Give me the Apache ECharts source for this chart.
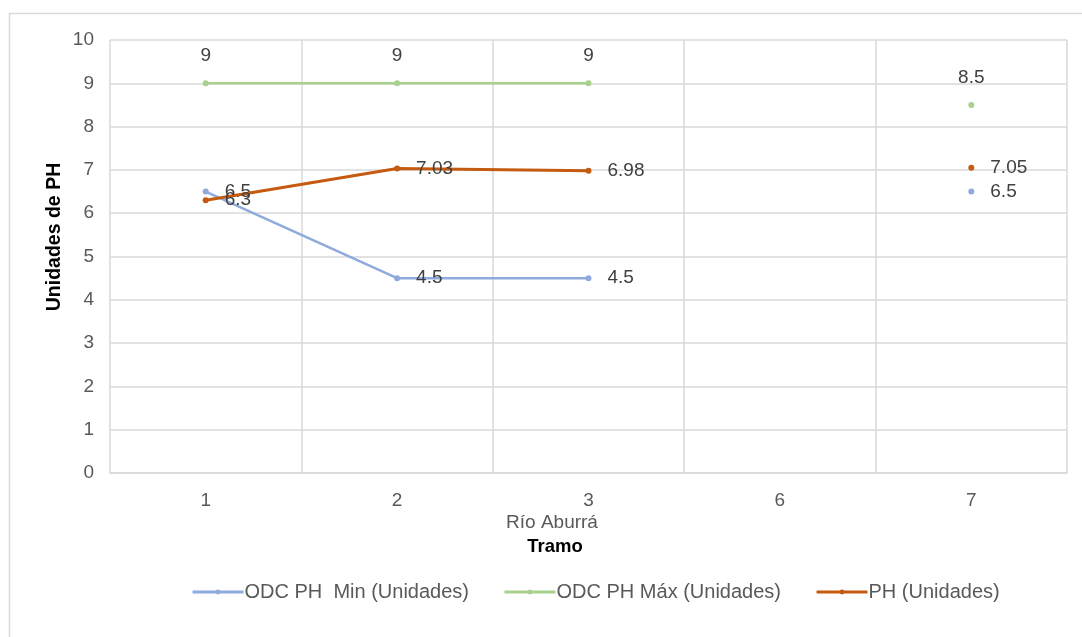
<!DOCTYPE html>
<html>
<head>
<meta charset="utf-8">
<script src="https://cdn.jsdelivr.net/npm/echarts@6/dist/echarts.min.js"></script>
<style>
html,body{margin:0;padding:0;background:#fff;}
#chart{width:1082px;height:637px;}
</style>
</head>
<body>
<div id="chart"></div>
<script>
const categories = ['1', '2', '3', '6', '7'];
const odcMin = [6.5, 4.5, 4.5, null, 6.5];
const odcMax = [9, 9, 9, null, 8.5];
const ph = [6.3, 7.03, 6.98, null, 7.05];
const seriesNames = ['ODC PH  Min (Unidades)', 'ODC PH Máx (Unidades)', 'PH (Unidades)'];
const yTicks = { min: 0, max: 10, interval: 1 };
const xTitle = 'Río Aburrá';
const xName = 'Tramo';
const yName = 'Unidades de PH';

const chart = echarts.init(document.getElementById('chart'));
const FONT = '"Liberation Sans", Arial, sans-serif';
const labelStyle = { fontFamily: FONT, fontSize: 19, color: '#404040' };

chart.setOption({
  animation: false,
  backgroundColor: '#fff',
  grid: { left: 110, right: 15, top: 40, bottom: 164, containLabel: false },
  graphic: [
    { type: 'rect', shape: { x: 9.5, y: 13.5, width: 1100, height: 700 },
      style: { fill: 'none', stroke: '#d9d9d9', lineWidth: 1.5 }, silent: true, z: -1 },
    { type: 'text', x: 552, y: 523, style: { text: xTitle, fontFamily: FONT, fontSize: 19, fill: '#595959', textAlign: 'center', textVerticalAlign: 'middle' } },
    { type: 'text', x: 555, y: 547, style: { text: xName, fontFamily: FONT, fontSize: 18.5, fontWeight: 'bold', fill: '#000', textAlign: 'center', textVerticalAlign: 'middle' } },
    { type: 'text', x: 55, y: 237, rotation: Math.PI / 2, style: { text: yName, fontFamily: FONT, fontSize: 19.5, fontWeight: 'bold', fill: '#000', textAlign: 'center', textVerticalAlign: 'middle' } }
  ],
  legend: {
    top: 577, left: 186,
    itemWidth: 51, itemHeight: 6, itemGap: 34,
    lineStyle: { width: 3 },
    textStyle: { fontFamily: FONT, fontSize: 20, color: '#595959', padding: [0, 0, 0, -4] },
    data: seriesNames
  },
  xAxis: {
    type: 'category', data: categories, boundaryGap: true,
    axisLine: { show: true, lineStyle: { color: '#d9d9d9', width: 1.5 } },
    axisTick: { show: false },
    axisLabel: { fontFamily: FONT, fontSize: 19, color: '#595959', margin: 18 },
    splitLine: { show: true, lineStyle: { color: '#d9d9d9', width: 1.5 } }
  },
  yAxis: {
    type: 'value', min: yTicks.min, max: yTicks.max, interval: yTicks.interval,
    axisLine: { show: false }, axisTick: { show: false },
    axisLabel: { fontFamily: FONT, fontSize: 19, color: '#595959', margin: 16 },
    splitLine: { show: true, lineStyle: { color: '#d9d9d9', width: 1.5 } }
  },
  series: [
    { name: seriesNames[0], type: 'line', data: odcMin, connectNulls: false,
      symbol: 'circle', symbolSize: 6, showSymbol: true,
      lineStyle: { color: '#8faadc', width: 2.5 }, itemStyle: { color: '#8faadc' },
      label: { show: true, position: 'right', distance: 16, ...labelStyle }, z: 3 },
    { name: seriesNames[1], type: 'line', data: odcMax, connectNulls: false,
      symbol: 'circle', symbolSize: 6, showSymbol: true,
      lineStyle: { color: '#a9d18e', width: 2.5 }, itemStyle: { color: '#a9d18e' },
      label: { show: true, position: 'top', distance: 15, ...labelStyle }, z: 2 },
    { name: seriesNames[2], type: 'line', data: ph, connectNulls: false,
      symbol: 'circle', symbolSize: 6, showSymbol: true,
      lineStyle: { color: '#c55a11', width: 3 }, itemStyle: { color: '#c55a11' },
      label: { show: true, position: 'right', distance: 16, ...labelStyle }, z: 4 }
  ]
});
</script>
</body>
</html>
